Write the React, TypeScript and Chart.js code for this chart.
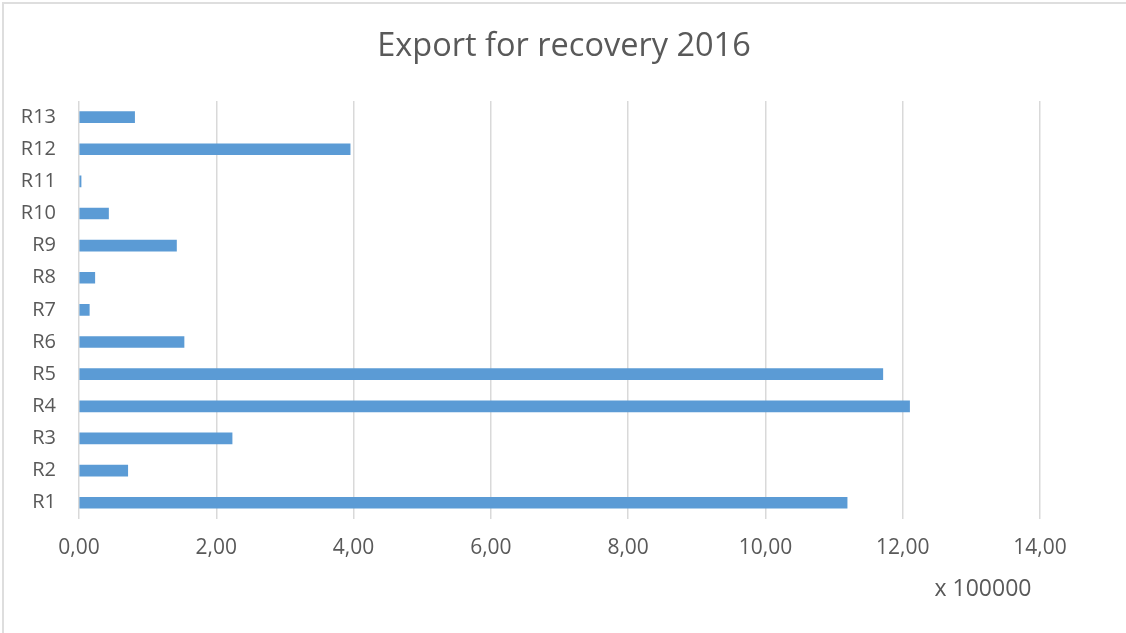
import React, { useEffect, useRef } from "react";
import { Chart, registerables } from "chart.js";

Chart.register(...registerables);

const categories = ["R1", "R2", "R3", "R4", "R5", "R6", "R7", "R8", "R9", "R10", "R11", "R12", "R13"];
const exportValues = [11.19, 0.71, 2.23, 12.1, 11.71, 1.53, 0.15, 0.23, 1.42, 0.43, 0.03, 3.95, 0.81];
const titleText = "Export for recovery 2016";
const unitText = "x 100000";
const xMin = 0;
const xMax = 14;
const xStep = 2;

const FONT = "'Open Sans', 'DejaVu Sans', sans-serif";
const TEXT_COLOR = "#595959";
const GRID_COLOR = "#d9d9d9";

export default function App() {
  const canvasRef = useRef<HTMLCanvasElement | null>(null);

  useEffect(() => {
    if (!canvasRef.current) return;
    const textPlugin = {
      id: "textLabels",
      afterDraw(chart: any) {
        const { ctx, chartArea, width } = chart;
        ctx.save();
        ctx.fillStyle = TEXT_COLOR;
        ctx.textAlign = "center";
        ctx.textBaseline = "middle";
        ctx.font = `32.5px ${FONT}`;
        ctx.fillText(titleText, width / 2 + 1, chartArea.top - 54);
        ctx.font = `23px ${FONT}`;
        ctx.fillText(unitText, chartArea.right - 57, chartArea.bottom + 71);
        ctx.restore();
      },
    };
    const chart = new Chart(canvasRef.current, {
      type: "bar",
      data: {
        labels: categories,
        datasets: [
          {
            label: "Export",
            data: exportValues,
            backgroundColor: "#5b9bd5",
            borderWidth: 0,
            barThickness: 11,
          },
        ],
      },
      options: {
        indexAxis: "y",
        responsive: false,
        animation: false,
        layout: { padding: { left: 0, right: 86, top: 101, bottom: 55 } },
        plugins: {
          legend: { display: false },
          tooltip: { enabled: false },
          title: { display: false },
        },
        scales: {
          x: {
            min: xMin,
            max: xMax,
            ticks: {
              stepSize: xStep,
              color: TEXT_COLOR,
              font: { family: FONT, size: 21 },
              padding: 17,
              callback: (v: any) => Number(v).toFixed(2).replace(".", ","),
            },
            grid: { color: GRID_COLOR, lineWidth: 1.5, drawTicks: false },
            border: { display: false },
          },
          y: {
            reverse: true,
            afterFit: (scale: any) => {
              scale.width = 79;
            },
            ticks: {
              color: TEXT_COLOR,
              font: { family: FONT, size: 20 },
              padding: 23,
            },
            grid: { display: false, drawTicks: false },
            border: { display: false },
          },
        },
      },
      plugins: [textPlugin],
    });
    return () => chart.destroy();
  }, []);

  return (
    <div style={{ position: "fixed", left: 0, top: 0, width: 1126, height: 633, background: "#fff", overflow: "hidden" }}>
      <canvas ref={canvasRef} width={1126} height={633} style={{ position: "absolute", left: 0, top: 0 }} />
      <div
        style={{
          position: "absolute",
          left: 2,
          top: 2,
          width: 1140,
          height: 650,
          borderLeft: "2px solid #dedede",
          borderTop: "2px solid #dedede",
          pointerEvents: "none",
        }}
      />
    </div>
  );
}
